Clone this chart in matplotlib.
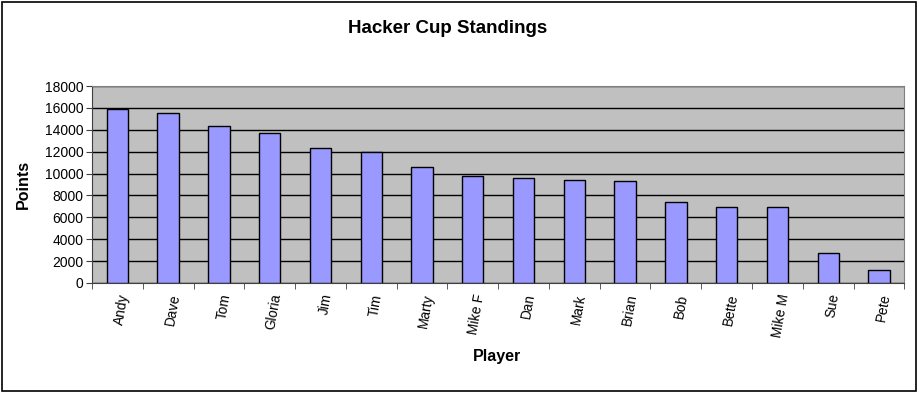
import numpy as np
import matplotlib.pyplot as plt
from matplotlib.patches import Rectangle

plt.rcParams['font.family'] = ['Liberation Sans', 'DejaVu Sans']

players = ["Andy", "Dave", "Tom", "Gloria", "Jim", "Tim", "Marty", "Mike F",
           "Dan", "Mark", "Brian", "Bob", "Bette", "Mike M", "Sue", "Pete"]
points = [15900, 15500, 14310, 13730, 12350, 11930, 10640, 9760,
          9600, 9420, 9360, 7430, 6970, 6910, 2720, 1220]
yticks = list(range(0, 18001, 2000))

fig = plt.figure(figsize=(9.2, 3.93), dpi=100)
ax = fig.add_axes([0.1, 0.28, 0.883, 0.501])

x = np.arange(len(players))
ax.set_facecolor('#C0C0C0')
ax.bar(x, points, width=0.42, color='#9999FF', edgecolor='black', linewidth=1, zorder=3)

ax.set_ylim(0, 18000)
ax.set_yticks(yticks)
ax.set_yticklabels([str(v) for v in yticks], fontsize=10)
ax.yaxis.grid(True, color='black', linewidth=1)
ax.set_axisbelow(True)

ax.set_xlim(-0.5, len(players) - 0.5)
ax.set_xticks(x)
ax.set_xticklabels(players, rotation=80, fontsize=9.8, ha='right', va='top',
                   rotation_mode='anchor')
ax.tick_params(axis='x', length=0, pad=7)
ax.set_xticks(np.arange(-0.5, len(players), 1), minor=True)
ax.tick_params(axis='x', which='minor', length=4, direction='out', color='#404040')
ax.tick_params(axis='y', length=4, direction='out', color='#404040', pad=2)

for s in ['top', 'right']:
    ax.spines[s].set_color('#808080')
for s in ['left', 'bottom']:
    ax.spines[s].set_color('#404040')

fig.text(0.487, 0.928, "Hacker Cup Standings", ha='center', va='center',
         fontsize=13.5, fontweight='bold')
fig.text(0.025, 0.53, "Points", ha='center', va='center', rotation=90,
         fontsize=11.5, fontweight='bold')
fig.text(0.54, 0.092, "Player", ha='center', va='center',
         fontsize=11.5, fontweight='bold')

fig.patches.append(Rectangle((0.002, 0.004), 0.994, 0.99, transform=fig.transFigure,
                             fill=False, edgecolor='black', linewidth=1.2))

fig.savefig('out.png', dpi=100)
